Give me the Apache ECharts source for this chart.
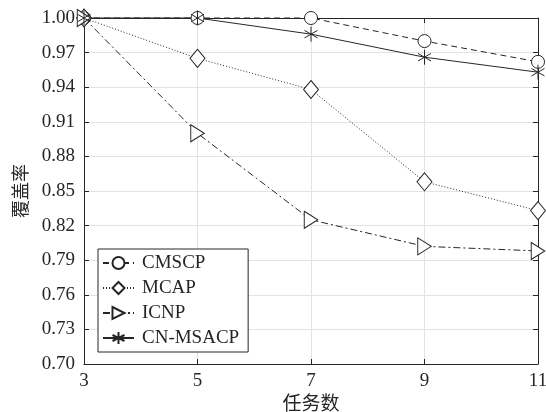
<!DOCTYPE html>
<html>
<head>
<meta charset="utf-8">
<script src="https://cdn.jsdelivr.net/npm/echarts@6/dist/echarts.min.js"></script>
<style>
html, body { margin: 0; padding: 0; background: #fff; }
#main { width: 546px; height: 412px; }
</style>
</head>
<body>
<div id="main"></div>
<script>
var taskNums = [3, 5, 7, 9, 11];
var cmscp = [1.000, 1.000, 1.000, 0.980, 0.962];
var mcap = [1.000, 0.965, 0.938, 0.858, 0.833];
var icnp = [1.000, 0.900, 0.825, 0.802, 0.798];
var cnMsacp = [1.000, 1.000, 0.986, 0.966, 0.953];

var FONT = '"Liberation Serif", "Noto Sans CJK SC", serif';
var INK = '#262626';
var ASTER = 'path://M0,-1L0,1M-0.866,-0.5L0.866,0.5M-0.866,0.5L0.866,-0.5';
var TRI_RIGHT = 'path://M-0.8,-1L1,0L-0.8,1Z';

function pairs(vals) {
    var out = [];
    for (var i = 0; i < taskNums.length; i++) {
        out.push([taskNums[i], vals[i]]);
    }
    return out;
}

function makeSeries(name, vals, symbol, size, dash) {
    return {
        name: name,
        type: 'line',
        data: pairs(vals),
        symbol: symbol,
        symbolSize: size,
        symbolKeepAspect: true,
        showAllSymbol: true,
        clip: false,
        lineStyle: { color: INK, width: 1, type: dash },
        itemStyle: { color: symbol === ASTER ? INK : '#fff', borderColor: INK, borderWidth: 1 },
        emphasis: { disabled: true }
    };
}

var myChart = echarts.init(document.getElementById('main'));

var axisLine = { show: true, lineStyle: { color: INK, width: 1 } };
var axisTick = { show: true, inside: true, length: 5, lineStyle: { color: INK } };

option = {
    animation: false,
    textStyle: { fontFamily: FONT },
    grid: { left: 84, right: 8, top: 18, bottom: 48, outerBoundsMode: 'none', containLabel: false },
    legend: {
        orient: 'vertical',
        left: 98,
        top: 249,
        padding: [4, 9, 4, 4],
        itemGap: 5,
        itemWidth: 31,
        itemHeight: 15,
        borderColor: INK,
        borderWidth: 1,
        backgroundColor: '#fff',
        textStyle: { fontFamily: FONT, fontSize: 19, color: INK, padding: [0, 0, 0, 3], lineHeight: 20 },
        data: ['CMSCP', 'MCAP', 'ICNP', 'CN-MSACP']
    },
    xAxis: [{
        type: 'value',
        min: 3,
        max: 11,
        interval: 2,
        name: '任务数',
        nameLocation: 'middle',
        nameGap: 25,
        nameTextStyle: { fontFamily: FONT, fontSize: 19, color: INK },
        axisLine: axisLine,
        axisTick: axisTick,
        axisLabel: { fontFamily: FONT, fontSize: 19, color: INK, margin: 8 },
        splitLine: { show: true, lineStyle: { color: '#e3e3e3' } }
    }, {
        type: 'value',
        position: 'top',
        min: 3,
        max: 11,
        interval: 2,
        axisLine: axisLine,
        axisTick: axisTick,
        axisLabel: { show: false },
        splitLine: { show: false }
    }],
    yAxis: [{
        type: 'value',
        min: 0.70,
        max: 1.00,
        interval: 0.03,
        name: '覆盖率',
        nameLocation: 'middle',
        nameGap: 50,
        nameTextStyle: { fontFamily: FONT, fontSize: 18, color: INK },
        axisLine: axisLine,
        axisTick: axisTick,
        axisLabel: {
            fontFamily: FONT, fontSize: 19, color: INK, margin: 9,
            formatter: function (v) { return v.toFixed(2); }
        },
        splitLine: { show: true, lineStyle: { color: '#e3e3e3' } }
    }, {
        type: 'value',
        position: 'right',
        min: 0.70,
        max: 1.00,
        interval: 0.03,
        axisLine: axisLine,
        axisTick: axisTick,
        axisLabel: { show: false },
        splitLine: { show: false }
    }],
    series: [
        makeSeries('CMSCP', cmscp, 'circle', 13, [6, 4]),
        makeSeries('MCAP', mcap, 'diamond', [15, 18], [1, 2]),
        makeSeries('ICNP', icnp, TRI_RIGHT, [15, 17], [7, 3, 2, 3]),
        makeSeries('CN-MSACP', cnMsacp, ASTER, 15, 'solid')
    ]
};

myChart.setOption(option);
</script>
</body>
</html>
